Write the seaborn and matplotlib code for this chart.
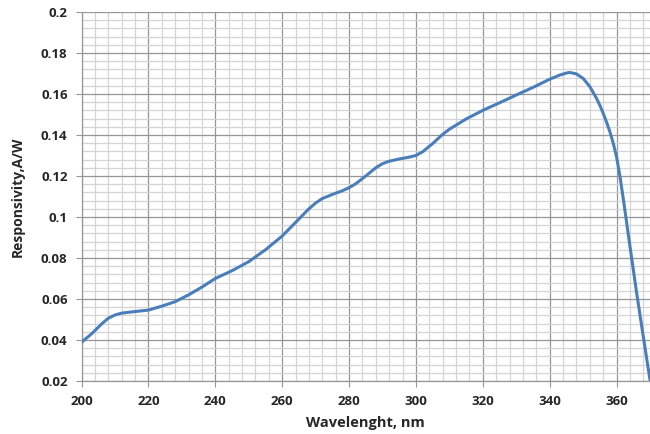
import numpy as np
import pandas as pd
import matplotlib
matplotlib.use('Agg')
import matplotlib.pyplot as plt
import seaborn as sns
from matplotlib.ticker import MultipleLocator

# values
wavelength = [200, 203, 206, 208, 210, 212, 215, 220, 224, 228, 232, 236, 240, 245,
              250, 255, 260, 265, 268, 270, 272, 275, 278, 280, 282, 285, 288, 290,
              292, 295, 298, 300, 302, 305, 308, 310, 312, 315, 320, 325, 330, 335,
              340, 343, 345, 346, 348, 350, 352, 354, 355, 356, 357, 358, 359, 360,
              361, 362, 364, 366, 368, 370]
responsivity = [0.0389, 0.0430, 0.0478, 0.0506, 0.0522, 0.0531, 0.0537, 0.0546, 0.0565, 0.0587, 0.0620, 0.0658, 0.0700, 0.0738,
                0.0782, 0.0840, 0.0907, 0.0990, 0.1040, 0.1068, 0.1090, 0.1110, 0.1128, 0.1143, 0.1162, 0.1200, 0.1240, 0.1260,
                0.1272, 0.1283, 0.1292, 0.1300, 0.1318, 0.1358, 0.1403, 0.1428, 0.1448, 0.1478, 0.1520, 0.1557, 0.1595, 0.1632,
                0.1672, 0.1692, 0.1702, 0.1705, 0.1698, 0.1676, 0.1636, 0.1579, 0.1545, 0.1506, 0.1463, 0.1416, 0.1360, 0.1294,
                0.1200, 0.1090, 0.0858, 0.0630, 0.0416, 0.0205]

df = pd.DataFrame({'wavelength': wavelength, 'responsivity': responsivity})

sns.set_style('white')
plt.rcParams['font.family'] = ['Open Sans', 'DejaVu Sans']

fig = plt.figure(figsize=(6.5, 4.34), dpi=100)
ax = fig.add_axes([0.1254, 0.1221, 0.8746, 0.8503])

sns.lineplot(data=df, x='wavelength', y='responsivity', ax=ax,
             color='#4a7ebb', linewidth=2.2, zorder=3)

ax.set_xlim(200, 370)
ax.set_ylim(0.02, 0.2)
ax.xaxis.set_major_locator(MultipleLocator(20))
ax.xaxis.set_minor_locator(MultipleLocator(4))
ax.yaxis.set_major_locator(MultipleLocator(0.02))
ax.yaxis.set_minor_locator(MultipleLocator(0.004))
ax.grid(which='minor', color='#d4d4d4', linewidth=0.9)
ax.grid(which='major', color='#969696', linewidth=0.9)
ax.set_axisbelow(True)

ax.set_yticks(np.arange(0.02, 0.2001, 0.02))
ax.set_yticklabels(['0.02', '0.04', '0.06', '0.08', '0.1', '0.12', '0.14', '0.16', '0.18', '0.2'])

for s in ['top', 'right']:
    ax.spines[s].set_visible(False)
for s in ['left', 'bottom']:
    ax.spines[s].set_color('#969696')
    ax.spines[s].set_linewidth(0.9)

ax.tick_params(which='major', direction='out', length=4, color='#969696',
               labelsize=9.5, pad=6, left=True, bottom=True)
ax.tick_params(which='minor', length=0)
for lab in ax.get_xticklabels() + ax.get_yticklabels():
    lab.set_fontweight('bold')

ax.set_xlabel('Wavelenght, nm', fontsize=10.5, fontweight='bold', labelpad=6)
ax.set_ylabel('Responsivity,A/W', fontsize=10, fontweight='bold', labelpad=12)

fig.savefig('out.png', dpi=100)
